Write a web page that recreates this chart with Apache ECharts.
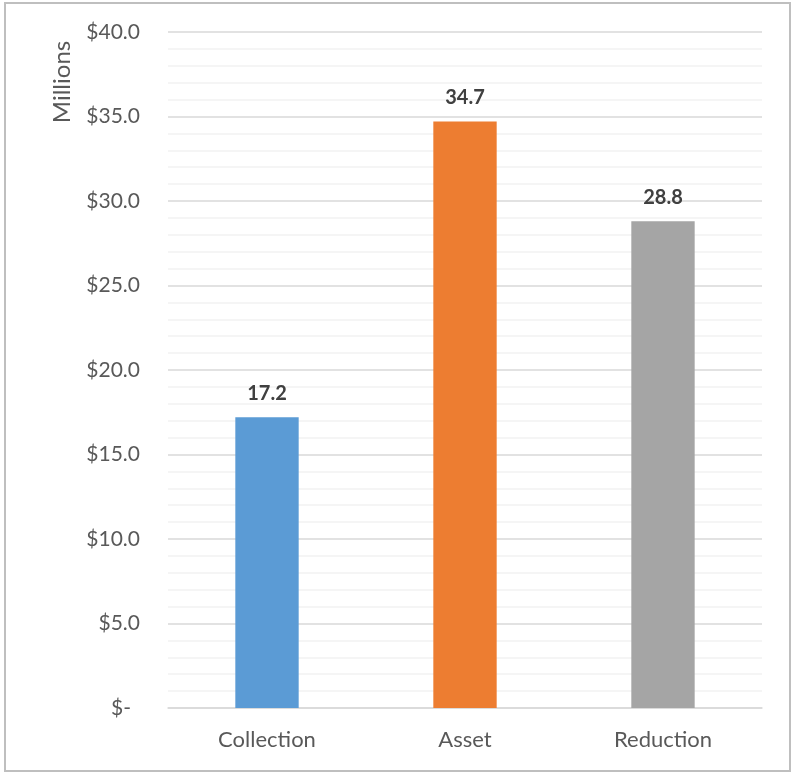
<!DOCTYPE html>
<html>
<head>
<meta charset="utf-8">
<script src="https://cdn.jsdelivr.net/npm/echarts@6/dist/echarts.min.js"></script>
<style>
html,body{margin:0;padding:0;background:#fff;}
#c{width:794px;height:775px;}
</style>
</head>
<body>
<div id="c"></div>
<script>
const categories = ["Collection", "Asset", "Reduction"];
const values = [17.2, 34.7, 28.8];
const colors = ["#5B9BD5", "#ED7D31", "#A5A5A5"];
const axisTitle = "Millions";

const FONT = "Lato, 'Open Sans', sans-serif";
const chart = echarts.init(document.getElementById('c'), null, {renderer: 'canvas'});
chart.setOption({
  animation: false,
  backgroundColor: '#fff',
  grid: {left: 168, right: 32, top: 32, bottom: 67, containLabel: false},
  graphic: [
    {type: 'rect', shape: {x: 5, y: 3, width: 785, height: 768}, style: {fill: 'none', stroke: '#BFBFBF', lineWidth: 2}, z: -1},
    {type: 'text', x: 62, y: 82, rotation: Math.PI / 2,
     style: {text: axisTitle, fill: '#595959', font: '24px ' + FONT, align: 'center', verticalAlign: 'middle'}}
  ],
  xAxis: {
    type: 'category', data: categories,
    axisLine: {show: true, lineStyle: {color: '#D9D9D9', width: 1.5}},
    axisTick: {show: false},
    axisLabel: {color: '#595959', fontSize: 22, fontFamily: FONT, margin: 21}
  },
  yAxis: {
    type: 'value', min: 0, max: 40, interval: 5,
    axisLine: {show: false}, axisTick: {show: false},
    splitLine: {lineStyle: {color: '#D9D9D9', width: 1.5}},
    minorTick: {show: false, splitNumber: 5},
    minorSplitLine: {show: true, lineStyle: {color: '#F2F2F2', width: 1.5}},
    axisLabel: {
      color: '#595959', fontSize: 21, fontFamily: FONT, margin: 28,
      formatter: v => v === 0 ? '{z|$-}' : '$' + v.toFixed(1),
      rich: {z: {color: '#595959', fontSize: 21, fontFamily: FONT, padding: [0, 9, 0, 0]}}
    }
  },
  series: [{
    type: 'bar',
    data: values.map((v, i) => ({value: v, itemStyle: {color: colors[i]}})),
    barWidth: '32%',
    label: {show: true, position: 'top', distance: 14, color: '#404040', fontSize: 20, fontWeight: 'bold', fontFamily: FONT,
            formatter: p => p.value.toFixed(1)}
  }]
});
</script>
</body>
</html>
